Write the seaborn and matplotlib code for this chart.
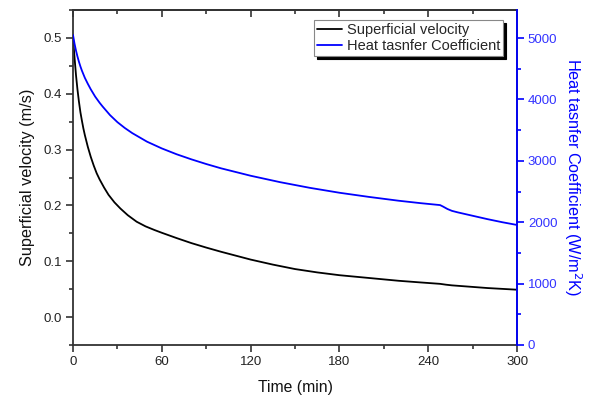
import numpy as np
import pandas as pd
import matplotlib
matplotlib.use("Agg")
import matplotlib.pyplot as plt
from matplotlib.ticker import MultipleLocator, FormatStrFormatter
import seaborn as sns

# superficial velocity (min, m/s)
vel_time = [0, 1, 2, 3, 4, 5, 6, 7, 8, 10, 12, 14, 16, 18, 21, 24, 28, 32, 37, 43,
            49, 55, 60, 70, 80, 90, 100, 110, 120, 135, 150, 165, 180, 200, 220, 235,
            248, 252, 256, 265, 280, 300]
velocity = [0.500, 0.466, 0.434, 0.408, 0.386, 0.367, 0.352, 0.338, 0.326, 0.305,
            0.287, 0.2714, 0.2576, 0.2465, 0.232, 0.219, 0.2055, 0.1945, 0.1825, 0.1708,
            0.1625, 0.156, 0.151, 0.1415, 0.1325, 0.1245, 0.117, 0.110, 0.103, 0.094,
            0.086, 0.080, 0.075, 0.070, 0.065, 0.062, 0.0595, 0.058, 0.0568, 0.0550,
            0.0520, 0.0490]

# heat transfer coefficient (min, W/m2K)
htc_time = [0, 1, 2, 3, 4, 5, 6, 8, 10, 12, 15, 18, 20, 25, 30, 35, 40, 50, 60, 70,
            80, 90, 100, 120, 140, 160, 180, 200, 220, 235, 248, 250, 253, 256, 260,
            270, 280, 290, 300]
htc = [5050, 4912, 4797, 4700, 4614, 4538, 4470, 4352, 4255, 4165, 4045, 3945, 3885,
       3745, 3630, 3535, 3452, 3312, 3202, 3107, 3024, 2948, 2878, 2757, 2652, 2560,
       2480, 2412, 2350, 2310, 2279, 2255, 2215, 2185, 2160, 2105, 2050, 2000, 1955]

sns.set_style("ticks")
plt.rcParams['font.family'] = ['Liberation Sans', 'DejaVu Sans']

fig = plt.figure(figsize=(5.96, 4.03), dpi=100)
ax = fig.add_axes([0.1225, 0.144, 0.745, 0.831])
ax2 = ax.twinx()

sns.lineplot(x=vel_time, y=velocity, ax=ax, color='black', lw=1.3,
             label='Superficial velocity', legend=False)
sns.lineplot(x=htc_time, y=htc, ax=ax2, color='#0000ff', lw=1.3,
             label='Heat tasnfer Coefficient', legend=False)

ax.set_xlim(0, 300)
ax.set_ylim(-0.05, 0.55)
ax2.set_ylim(0, 5456)

ax.xaxis.set_major_locator(MultipleLocator(60))
ax.xaxis.set_minor_locator(MultipleLocator(30))
ax.yaxis.set_major_locator(MultipleLocator(0.1))
ax.yaxis.set_minor_locator(MultipleLocator(0.05))
ax.yaxis.set_major_formatter(FormatStrFormatter('%.1f'))
ax2.yaxis.set_major_locator(MultipleLocator(1000))
ax2.yaxis.set_minor_locator(MultipleLocator(500))

for sp in ax.spines.values():
    sp.set_linewidth(1.3)
    sp.set_color('#333333')
ax2.spines['right'].set_color('#0000ff')
ax2.spines['right'].set_linewidth(1.3)
for s in ['left', 'top', 'bottom']:
    ax2.spines[s].set_visible(False)

ax.tick_params(axis='both', which='major', direction='out', length=4.8, width=1.2,
               labelsize=9.5, colors='#333333', labelcolor='#222222', pad=3)
ax.tick_params(axis='both', which='minor', direction='out', length=3, width=1.2,
               colors='#333333')
ax.tick_params(axis='y', right=False)
ax2.tick_params(axis='y', which='major', direction='out', length=4.8, width=1.2,
                labelsize=9.5, colors='#0000ff', labelcolor='#3333ff', pad=3)
ax2.tick_params(axis='y', which='minor', direction='out', length=3, width=1.2,
                colors='#0000ff')

# top axis: same ticks, pointing inward, no labels
top = ax.secondary_xaxis('top')
top.xaxis.set_major_locator(MultipleLocator(60))
top.xaxis.set_minor_locator(MultipleLocator(30))
top.tick_params(which='major', direction='in', length=4.8, width=1.2, labeltop=False,
                colors='#333333')
top.tick_params(which='minor', direction='in', length=3, width=1.2, colors='#333333')
top.spines['top'].set_linewidth(1.3)
top.spines['top'].set_color('#333333')

ax.set_xlabel('Time (min)', fontsize=11.3, color='#111111', labelpad=9)
ax.set_ylabel('Superficial velocity (m/s)', fontsize=11.7, color='#111111', labelpad=6)
ax2.set_ylabel('Heat tasnfer Coefficient (W/m$^2$K)', fontsize=11.7, color='#0000ff',
               rotation=270, labelpad=19)

h1, l1 = ax.get_legend_handles_labels()
h2, l2 = ax2.get_legend_handles_labels()
leg = ax2.legend(h1 + h2, l1 + l2, loc='upper right', bbox_to_anchor=(0.968, 0.970),
                 fontsize=10.5, frameon=True, fancybox=False, framealpha=1,
                 edgecolor='#888888', borderpad=0.2, labelspacing=0.15,
                 handlelength=1.7, handletextpad=0.3, borderaxespad=0,
                 shadow={'color': 'black', 'alpha': 1.0})
leg.get_frame().set_linewidth(0.8)

fig.savefig('out.png', dpi=100)
